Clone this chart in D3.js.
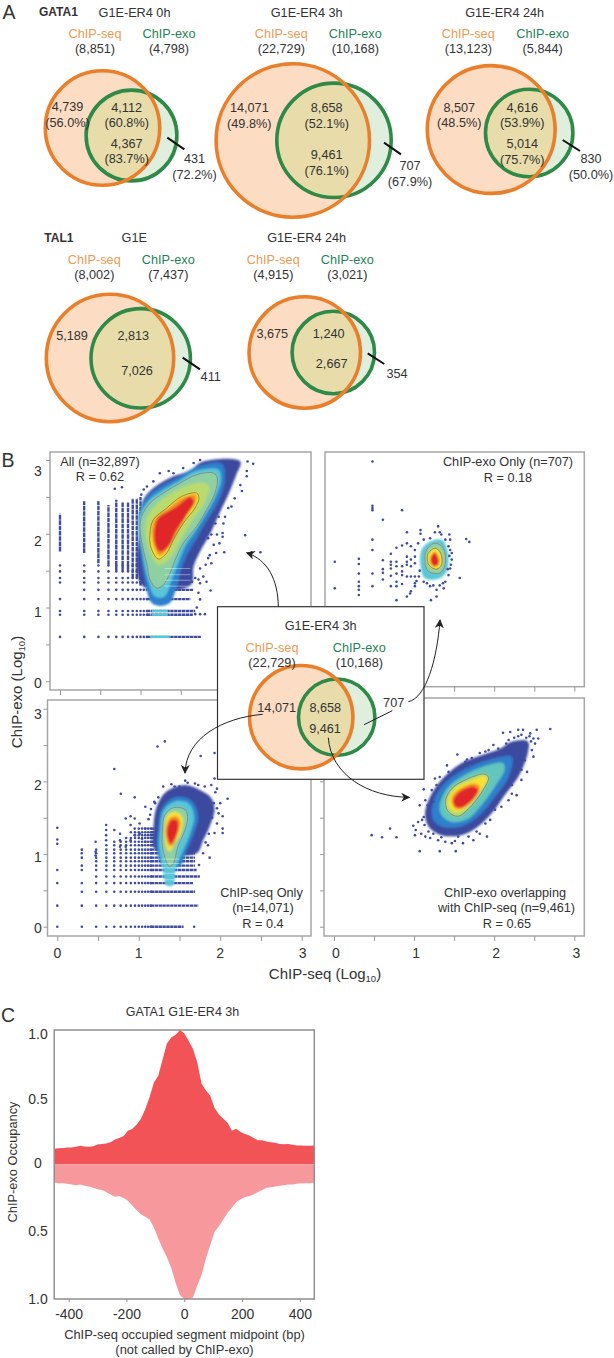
<!DOCTYPE html>
<html>
<head>
<meta charset="utf-8">
<script src="https://cdn.jsdelivr.net/npm/d3@7"></script>
<style>
  html, body { margin: 0; padding: 0; background: #fff; }
  svg { display: block; }
  text { font-family: "Liberation Sans", Arial, sans-serif; fill: #333; }
</style>
</head>
<body>
<div id="chart"></div>
<script>
// ===================================================
// DATA - panel A / inset Venn numbers
// ===================================================
const vennTitles = ["G1E-ER4 0h", "G1E-ER4 3h", "G1E-ER4 24h", "G1E", "G1E-ER4 24h"];
const seqTotals = ["(8,851)", "(22,729)", "(13,123)", "(8,002)", "(4,915)"];
const exoTotals = ["(4,798)", "(10,168)", "(5,844)", "(7,437)", "(3,021)"];
const vennRegions = [
  [["4,739", "(56.0%)"], ["4,112", "(60.8%)"], ["4,367", "(83.7%)"], ["431", "(72.2%)"]],
  [["14,071", "(49.8%)"], ["8,658", "(52.1%)"], ["9,461", "(76.1%)"], ["707", "(67.9%)"]],
  [["8,507", "(48.5%)"], ["4,616", "(53.9%)"], ["5,014", "(75.7%)"], ["830", "(50.0%)"]],
  [["5,189"], ["2,813"], ["7,026"], ["411"]],
  [["3,675"], ["1,240"], ["2,667"], ["354"]]
];
const insetRegions = [["14,071"], ["8,658"], ["9,461"], ["707"]];

// ===================================================
// DATA - panel B, density outlines
// [ChIP-seq log10, ChIP-exo log10]
// ===================================================
const allNavy = [[1.02,1.30],[1.0,2.2],[1.03,2.45],[1.16,2.62],[1.37,2.76],[1.6,2.85],[1.78,2.98],[2.24,2.98],[2.19,2.80],[2.09,2.53],[1.99,2.30],[1.86,1.99],[1.74,1.76],[1.66,1.56],[1.62,1.3]];
const allBlue = [[.97,2.05],[.98,2.28],[1.08,2.50],[1.25,2.64],[1.47,2.77],[1.70,2.91],[2.01,2.95],[2.05,2.75],[1.97,2.44],[1.82,2.17],[1.70,1.94],[1.58,1.72],[1.50,1.50],[1.45,1.28],[1.35,1.05],[1.15,1.05],[1.05,1.40],[1.0,1.75]];
const allCyan = [[.98,2.05],[1.0,2.27],[1.10,2.45],[1.27,2.59],[1.48,2.72],[1.69,2.85],[1.97,2.87],[2.0,2.73],[1.905,2.44],[1.78,2.21],[1.66,2.0],[1.55,1.82],[1.47,1.60],[1.39,1.38],[1.30,1.15],[1.18,1.15],[1.09,1.38],[1.02,1.75]];
const allGreen = [[.994,2.054],[1.014,2.235],[1.118,2.416],[1.284,2.552],[1.491,2.688],[1.698,2.801],[1.905,2.824],[1.954,2.756],[1.925,2.552],[1.822,2.326],[1.698,2.100],[1.532,1.873],[1.449,1.692],[1.366,1.466],[1.284,1.308],[1.201,1.262],[1.118,1.376],[1.077,1.602],[1.035,1.783]];
const allLime = [[1.06,2.03],[1.09,2.24],[1.22,2.42],[1.47,2.60],[1.72,2.69],[1.85,2.65],[1.80,2.42],[1.64,2.17],[1.49,1.90],[1.40,1.72],[1.30,1.60],[1.22,1.58],[1.13,1.72]];
const allYellow = [[1.118,2.009],[1.159,2.190],[1.325,2.348],[1.511,2.507],[1.698,2.552],[1.727,2.484],[1.677,2.348],[1.532,2.145],[1.408,1.919],[1.325,1.738],[1.222,1.656],[1.159,1.738],[1.118,1.873]];
const allOrange = [[1.14,2.05],[1.19,2.22],[1.35,2.35],[1.52,2.49],[1.69,2.53],[1.68,2.42],[1.58,2.25],[1.46,2.02],[1.36,1.83],[1.24,1.70],[1.17,1.82]];
const allRed = [[1.18,2.10],[1.222,2.213],[1.449,2.371],[1.615,2.498],[1.665,2.439],[1.573,2.258],[1.449,2.054],[1.346,1.828],[1.242,1.76],[1.18,1.873]];

const exoCyan = [[1.094,1.783],[1.198,1.896],[1.344,1.919],[1.415,1.783],[1.415,1.511],[1.323,1.398],[1.136,1.398],[1.082,1.557]];
const exoGreen = [[1.157,1.783],[1.261,1.873],[1.365,1.805],[1.386,1.579],[1.323,1.466],[1.178,1.489],[1.136,1.624]];
const exoYellow = [[1.178,1.738],[1.261,1.805],[1.332,1.738],[1.344,1.579],[1.282,1.52],[1.199,1.557],[1.165,1.647]];
const exoRed = [[1.211,1.692],[1.261,1.751],[1.303,1.67],[1.311,1.602],[1.261,1.557],[1.211,1.602]];

const seqNavy = [[1.20,1.06],[1.18,1.33],[1.22,1.65],[1.34,1.86],[1.57,1.95],[1.75,1.88],[1.89,1.77],[1.93,1.61],[1.87,1.38],[1.79,1.19],[1.71,1.01]];
const seqBlue = [[1.24,1.33],[1.28,1.62],[1.44,1.78],[1.63,1.75],[1.73,1.53],[1.67,1.26],[1.58,1.03],[1.50,.83],[1.30,.83],[1.22,1.08]];
const seqCyan = [[1.26,1.33],[1.31,1.61],[1.46,1.73],[1.62,1.69],[1.68,1.51],[1.63,1.28],[1.55,1.06],[1.46,.83],[1.42,.57],[1.34,.57],[1.29,.83],[1.25,1.10]];
const seqGreen = [[1.29,1.33],[1.32,1.54],[1.43,1.64],[1.57,1.61],[1.60,1.48],[1.55,1.28],[1.48,1.10],[1.42,.86],[1.37,.83],[1.33,.92],[1.29,1.10]];
const seqYellow = [[1.32,1.38],[1.36,1.54],[1.46,1.58],[1.54,1.49],[1.51,1.28],[1.44,1.15],[1.38,1.03],[1.34,1.10],[1.32,1.24]];
const seqOrange = [[1.33,1.35],[1.38,1.49],[1.46,1.52],[1.51,1.44],[1.47,1.26],[1.42,1.12],[1.37,1.12],[1.34,1.22]];
const seqRed = [[1.35,1.35],[1.40,1.47],[1.47,1.46],[1.48,1.33],[1.43,1.19],[1.39,1.14],[1.35,1.24]];

const overlapNavy = [[1.136,1.56],[1.20,1.79],[1.34,2.02],[1.59,2.25],[1.84,2.36],[2.09,2.46],[2.20,2.54],[2.42,2.55],[2.42,2.39],[2.30,2.06],[2.13,1.81],[1.97,1.56],[1.80,1.38],[1.59,1.26],[1.34,1.26],[1.18,1.38]];
const overlapBlue = [[1.22,1.61],[1.30,1.86],[1.51,2.09],[1.80,2.25],[2.09,2.34],[2.22,2.34],[2.18,2.06],[2.01,1.79],[1.82,1.54],[1.59,1.38],[1.34,1.38],[1.24,1.47]];
const overlapCyan = [[1.32,1.67],[1.41,1.90],[1.59,2.06],[1.86,2.20],[2.11,2.25],[2.13,2.16],[2.01,1.93],[1.84,1.67],[1.68,1.49],[1.47,1.44],[1.34,1.54]];
const overlapGreen = [[1.39,1.72],[1.47,1.90],[1.68,2.04],[1.88,2.10],[1.93,2.05],[1.86,1.88],[1.72,1.67],[1.55,1.52],[1.43,1.58]];
const overlapYellow = [[1.43,1.74],[1.51,1.90],[1.70,2.00],[1.87,2.07],[1.91,2.03],[1.82,1.86],[1.68,1.67],[1.55,1.58],[1.45,1.63]];
const overlapOrange = [[1.47,1.77],[1.55,1.88],[1.74,1.97],[1.82,1.93],[1.76,1.77],[1.61,1.63],[1.51,1.63]];
const overlapRed = [[1.49,1.74],[1.57,1.86],[1.74,1.93],[1.80,1.88],[1.72,1.74],[1.59,1.64],[1.51,1.66]];

// ===================================================
// DATA - panel B, counted reads sit on log10(integer) lines
// ===================================================
const xLevels = [0,.301,.477,.602,.699,.778,.845,.903,.954,1,1.041,1.079,1.114,1.146];

// [y, first x, last x] - dots at low x, solid after that
const allRows = [[.602,0,1.75],[.903,0,1.65],[.954,0,1.68],[1.114,0,1.62],[1.24,.3,1.66],[1.34,0,1.6],[1.40,0,1.62],[1.49,0,1.62],[1.57,0,1.6]];
// [x, low y, high y]
const allColumns = [[0,1.76,2.27],[.30,1.74,2.44],[.477,1.60,2.44],[.602,1.58,2.39],[.699,1.5,2.46],[.778,1.5,2.43],[.845,1.5,2.43],[.903,1.4,2.48],[.954,1.4,2.48],[1,1.3,2.5]];
const allRowGlow = [[.602,1.12,1.36],[.903,1.14,1.34],[.954,1.14,1.34],[1.114,1.12,1.36],[1.24,1.08,1.4]];
const allRowGaps = [1.29,1.37,1.445,1.53];
const allPoints = [[.68,2.61],[.77,2.63],[1.24,2.82],[1.35,2.85],[1.04,2.60],[1.08,2.64],[1.01,2.53],[1.16,2.71],[1.41,2.82],[1.53,2.89],[1.66,2.96],[1.74,3.0],
  [2.33,2.98],[2.40,2.95],[2.32,2.85],[2.32,2.78],[2.24,2.66],[2.26,2.58],[2.17,2.48],[2.13,2.37],[2.09,2.35],[2.05,2.23],[1.97,2.23],[2.03,2.14],[1.93,2.14],[1.86,2.05],[1.88,1.99],[1.95,1.99],[2.02,2.01],[2.02,1.96],[1.84,1.94],[2.30,1.98],[1.98,1.87],[1.91,1.85],[1.86,1.71],[1.94,1.74],[2.04,1.75],[2.38,1.75],[2.49,1.75],[1.84,1.67],[1.88,1.60],[1.81,1.58],[1.74,1.53],[1.78,1.42],[1.72,1.38],[1.82,1.35],[1.74,1.33],[1.68,1.40],[1.64,1.35],
  [1.87,1.23],[1.74,1.11],[1.80,.91],[1.74,.91],[1.68,.91],[1.70,1.0],[1.72,1.2]];

const seqRows = [[0,0,1.55],[.29,0,1.73],[.48,.3,1.69],[.60,0,1.67],[.69,.477,1.75],[.78,0,1.71],[.84,.3,1.69],[.90,.477,1.69],[.95,.3,1.69],[1.01,.477,1.69],[1.06,.3,1.71],[1.12,.602,1.30],[1.17,.699,1.30],[1.22,.845,1.3],[1.26,.954,1.3],[1.30,.903,1.3],[1.35,1.0,1.3]];
const seqRowGaps = [.54,.645,.735,.81,.87,.93];
const seqPoints = [[0,1.36],[0,1.20],[0,1.14],[.30,1.01],[.47,1.17],[.47,1.03],[.47,.98],[.60,1.40],[.60,1.33],[.60,1.26],[.60,1.19],[.70,2.17],[.78,1.83],[.95,1.78],[1.23,2.48],[1.32,2.55],[1.76,2.35],[1.93,2.39],[1.93,2.04],[2.09,1.76],[2.03,1.52],[2.03,1.35],[2.03,1.29],[1.68,0],[1.20,1.70],[1.24,1.78],[1.30,1.93],[1.40,1.96],[1.44,1.93],[1.57,2.01],[1.69,1.97],[1.73,1.95],[1.81,1.93],[1.89,1.95],[1.96,1.90],[2.00,1.70],[1.98,1.56],[1.96,1.42],[1.93,1.29],[1.85,1.12],[1.87,.95],[1.79,1.01],[1.74,.85],[1.01,1.28],[1.08,1.35],[1.14,1.54],[1.08,1.65],[1.01,1.42],[.95,1.49],[.90,1.52],[.84,1.49],[.90,1.40],[.95,1.35],[.77,1.28],[.70,1.33],[.77,1.19],[.84,1.10],[.90,1.19],[.95,1.26],[.77,1.10],[1.04,1.21],[1.08,1.17],[1.04,1.12],[1.92,1.70],[1.96,1.63],[1.90,1.50],[1.86,1.28],[1.82,1.16],[1.94,1.85],[1.60,1.98],[1.50,1.93],[1.12,1.48],[1.15,1.62],[1.19,1.72]];

const exoPoints = [[.48,2.98],[.48,2.38],[.48,2.35],[.48,2.32],[.85,2.32],[.61,2.19],[.91,2.02],[.48,1.92],[1.08,2.05],[1.08,2.00],[1.30,2.10],[1.26,2.02],[1.34,1.99],[1.44,1.99],[1.65,1.93],[1.69,1.89],[.48,1.78],[.01,1.62],[.01,1.26],[.31,1.66],[.31,1.59],[.31,1.46],[.31,1.35],[.31,1.29],[.31,1.24],[.31,1.17],[.48,1.46],[.48,1.29],[.61,1.64],[.61,1.52],[.61,1.47],[.61,1.38],[.71,1.73],[.71,1.62],[.71,1.58],[.71,1.53],[.71,1.43],[.71,1.29],[.78,1.81],[.78,1.62],[.78,1.56],[.78,1.46],[.78,1.35],[.78,1.29],[.85,1.84],[.85,1.56],[.85,1.49],[.85,1.44],[.85,1.32],[.91,1.87],[.91,1.69],[.91,1.62],[.91,1.58],[.91,1.42],[.96,1.83],[.96,1.65],[.96,1.56],[.96,1.42],[.96,1.22],[1.01,1.78],[1.01,1.69],[1.01,1.60],[1.01,1.42],[1.01,1.33],[1.01,1.29],[.78,1.10],[.91,1.15],[.95,1.19],[1.21,1.10],[1.28,1.15],[1.45,1.78],[1.47,1.65],[1.45,1.53],[1.43,1.44],[1.57,1.40],[1.39,1.35],[1.37,1.26],[1.28,1.24],[1.20,1.29],[1.12,1.35],[1.05,1.87],[1.12,1.92],[1.20,1.94],[1.32,2.02],[1.39,1.92],[1.45,1.92],[1.47,1.74],[1.46,1.58],[1.43,1.83],[1.06,1.42],[1.07,1.50],[1.03,1.36],[1.16,1.33],[1.24,1.30],[1.32,1.30],[1.36,1.33],[1.42,1.52],[1.44,1.70]];

const overlapPoints = [[.47,1.26],[.60,1.23],[.70,1.35],[.78,1.23],[1.07,1.04],[1.32,1.04],[1.52,1.04],[2.70,2.72],[.99,1.39],[1.02,1.33],[1.09,1.28],[1.14,1.24],[1.12,1.51],[1.17,1.67],[1.07,1.67],[1.14,1.74],[1.12,1.89],[1.22,1.88],[1.28,1.95],[1.32,2.06],[1.41,2.22],[1.54,2.37],[1.64,2.27],[1.72,2.32],[1.82,2.39],[1.93,2.43],[1.99,2.50],[2.11,2.67],[2.20,2.68],[2.30,2.71],[2.36,2.71],[2.45,2.66],[2.53,2.71],[2.55,2.59],[2.51,2.52],[2.47,2.43],[2.41,2.13],[2.28,1.81],[2.18,1.74],[2.01,1.61],[1.91,1.24],[1.74,1.19],[1.61,1.15],[1.47,1.15],[1.30,1.19],[1.20,1.22],[1.05,1.44],[1.01,1.26],[1.24,1.28],[1.39,1.17],[1.55,1.24],[1.78,1.31],[1.89,1.42],[2.03,1.70],[2.22,1.95],[2.34,2.16],[2.38,2.29],[2.26,2.48],[1.24,1.72],[1.19,1.56],[1.10,1.47],[1.26,2.04],[1.43,2.13],[1.66,2.30],[1.89,2.41],[2.05,2.45],[2.18,2.57],[2.34,2.64],[2.49,2.59],[2.49,2.34],[2.34,2.02],[2.22,1.83],[2.09,1.65],[1.95,1.47],[1.82,1.28],[1.68,1.24],[1.51,1.18],[1.34,1.23],[1.18,1.31],[1.13,1.40],[2.25,2.60],[2.30,2.62],[2.40,2.60],[2.46,2.55],[2.44,2.62],[2.15,2.52]];

const scatterTicks = [0,.5,1,1.5,2,2.5,3];
const scatterTickLabels = [0,1,2,3];

// ===================================================
// DATA - panel C, occupancy profile
// ===================================================
const profileBp = [-450,-435,-420,-405,-390,-375,-360,-345,-330,-315,-300,-285,-270,-255,-240,-225,-210,-195,-180,-165,-150,-135,-120,-105,-90,-75,-60,-45,-30,-15,0,15,30,45,60,75,90,105,120,135,150,165,180,195,210,225,240,255,270,285,300,315,330,345,360,375,390,405,420,435,450];
const calledOccupancy = [.115,.12,.122,.125,.125,.13,.138,.132,.13,.135,.148,.152,.155,.165,.185,.195,.21,.25,.262,.295,.34,.41,.5,.61,.66,.78,.9,.945,.965,1,.975,.92,.86,.76,.6,.55,.51,.42,.37,.34,.31,.25,.265,.24,.225,.215,.195,.18,.18,.17,.165,.16,.152,.15,.152,.145,.14,.14,.138,.138,.14];
const notCalledOccupancy = [.135,.14,.14,.145,.15,.155,.15,.16,.165,.175,.185,.19,.205,.225,.24,.235,.25,.27,.305,.34,.37,.39,.41,.47,.55,.625,.69,.77,.88,.97,1,1,.99,.9,.82,.7,.6,.5,.46,.41,.36,.32,.28,.26,.245,.235,.225,.205,.19,.175,.17,.165,.16,.155,.15,.15,.145,.14,.14,.14,.135];
const profileXTicks = [-400,-200,0,200,400];
const profileYTicks = [1,.5,0,-.5,-1];

// ===================================================
// LAYOUT / STYLE
// ===================================================
const width = 614, height = 1358;
const seqColor = "#e97f2b", exoColor = "#2f8a48";
const seqLabelColor = "#ef9a52", exoLabelColor = "#1f8358";
const bandColors = { navy: "#3b4a9e", blue: "#2f7fcc", cyan: "#58c6d8", teal: "#62c6bd", green: "#8fd0a2", lime: "#b9da6e", yellow: "#f7e233", orange: "#f59323", red: "#e1272b" };

const vennLayouts = [
  { seq: [102.5,128,57.2], exo: [131.5,135.5,45.4], titleX: 134.5, titleY: 12, seqX: 95, exoX: 169, labelY: 33, countY: 48.7,
    regionAt: [[67.5,106.7],[126.7,107],[126.7,143],[194.5,158.7]], leader: [167.3,137.7,184.3,149.3], lineGap: 15.7 },
  { seq: [292.8,140.5,76.7], exo: [334,140.3,57.2], titleX: 306.7, titleY: 12, seqX: 281.3, exoX: 355.3, labelY: 33, countY: 48.7,
    regionAt: [[249.3,107],[326.7,107],[326.7,154],[410,165.7]], leader: [384,142.7,401,154.3], lineGap: 16 },
  { seq: [491.2,129.5,63.9], exo: [529.2,133,43.7], titleX: 504.7, titleY: 12, seqX: 468.3, exoX: 542.7, labelY: 33, countY: 48.7,
    regionAt: [[459.3,107],[522.3,107],[522.3,143.3],[591,158.7]], leader: [562.7,140,580,151], lineGap: 15.7 },
  { seq: [110,358,63.7], exo: [140.7,358.3,49.7], titleX: 134.3, titleY: 237.3, seqX: 94.3, exoX: 168.3, labelY: 259, countY: 274.7,
    regionAt: [[72,335.7],[133.3,335.7],[137,370.7],[210.7,376]], leader: [182.7,357.7,200,369.3], lineGap: 15.7 },
  { seq: [304.7,352.5,55.7], exo: [333.3,352.5,41.2], titleX: 306.7, titleY: 237.3, seqX: 273.3, exoX: 347.3, labelY: 259, countY: 274.7,
    regionAt: [[272.3,333.3],[328.7,333.3],[331.7,363.3],[397,373.3]], leader: [367.7,353.3,384.3,364], lineGap: 15.7 }
];
const insetLayout = { seq: [301.2,717.2,51.7], exo: [336.7,717.2,38.2], titleX: 320.7, titleY: 625.7, seqX: 272, exoX: 359.3, labelY: 647.3, countY: 662.7,
  regionAt: [[276.7,707.3],[325.3,707.3],[325,728.3],[393.7,702.7]], lineGap: 15.7 };

const svg = d3.select("#chart").append("svg")
    .attr("width", width)
    .attr("height", height)
    .attr("viewBox", [0, 0, width, height]);

const defs = svg.append("defs");

// Soft edge so the nested outlines read as a density map
defs.append("filter").attr("id", "soft")
    .attr("x", "-20%").attr("y", "-20%").attr("width", "140%").attr("height", "140%")
    .append("feGaussianBlur").attr("stdDeviation", 1.2);

defs.append("marker").attr("id", "arrow")
    .attr("viewBox", "0 0 10 10").attr("refX", 9).attr("refY", 5)
    .attr("markerWidth", 9).attr("markerHeight", 9).attr("markerUnits", "userSpaceOnUse")
    .attr("orient", "auto")
    .append("path").attr("d", "M0,0 L10,5 L0,10 L3,5 Z").attr("fill", "#222");

// Small text helper, y is the vertical middle of the text
function addText(parent, str, x, y, opts = {}) {
    return parent.append("text")
        .attr("x", x).attr("y", y).attr("dy", "0.36em")
        .attr("text-anchor", opts.anchor || "middle")
        .attr("font-size", opts.size || 12.7)
        .attr("font-weight", opts.weight || null)
        .style("fill", opts.color || null)
        .text(str);
}

// ===================================================
// VENN DIAGRAMS
// ===================================================
function drawVenn(parent, layout, id, title, seqTotal, exoTotal, regions) {
    const g = parent.append("g");
    const [sx, sy, sr] = layout.seq;
    const [ex, ey, er] = layout.exo;

    defs.append("clipPath").attr("id", "seq-clip-" + id)
        .append("circle").attr("cx", sx).attr("cy", sy).attr("r", sr);

    g.append("circle").attr("cx", ex).attr("cy", ey).attr("r", er).attr("fill", "#dfeedd");
    g.append("circle").attr("cx", sx).attr("cy", sy).attr("r", sr).attr("fill", "#fcdcc3");
    g.append("circle").attr("cx", ex).attr("cy", ey).attr("r", er).attr("fill", "#e7dcaa")
        .attr("clip-path", `url(#seq-clip-${id})`);
    g.append("circle").attr("cx", ex).attr("cy", ey).attr("r", er)
        .attr("fill", "none").attr("stroke", exoColor).attr("stroke-width", 3.6);
    g.append("circle").attr("cx", sx).attr("cy", sy).attr("r", sr)
        .attr("fill", "none").attr("stroke", seqColor).attr("stroke-width", 3.6);

    addText(g, title, layout.titleX, layout.titleY);
    addText(g, "ChIP-seq", layout.seqX, layout.labelY, { color: seqLabelColor });
    addText(g, "ChIP-exo", layout.exoX, layout.labelY, { color: exoLabelColor });
    addText(g, seqTotal, layout.seqX, layout.countY);
    addText(g, exoTotal, layout.exoX, layout.countY);

    regions.forEach((lines, i) => {
        lines.forEach((line, j) => {
            addText(g, line, layout.regionAt[i][0], layout.regionAt[i][1] + j * layout.lineGap);
        });
    });

    if (layout.leader) {
        const [x1, y1, x2, y2] = layout.leader;
        g.append("line").attr("x1", x1).attr("y1", y1).attr("x2", x2).attr("y2", y2)
            .attr("stroke", "#111").attr("stroke-width", 2);
    }
}

const panelA = svg.append("g").attr("class", "panel-a");
addText(panelA, "A", 9, 12, { size: 19.5 });
addText(panelA, "GATA1", 39, 11.7, { anchor: "start", weight: "bold", size: 12 });
addText(panelA, "TAL1", 44.3, 237.3, { anchor: "start", weight: "bold", size: 12 });
vennLayouts.forEach((layout, i) => {
    drawVenn(panelA, layout, i, vennTitles[i], seqTotals[i], exoTotals[i], vennRegions[i]);
});

// ===================================================
// DENSITY SCATTER PANELS
// ===================================================
const xTopLeft = d3.scaleLinear().domain([0, 3]).range([60, 301.5]);
const xBottomLeft = d3.scaleLinear().domain([0, 3]).range([57.3, 301.7]);
const xRight = d3.scaleLinear().domain([0, 3]).range([334, 574.3]);
const yTop = d3.scaleLinear().domain([0, 3]).range([681.3, 460]);
const yBottom = d3.scaleLinear().domain([0, 3]).range([926.7, 708.7]);
// The printed digits sit a little off their ticks
const yTopLabels = d3.scaleLinear().domain([0, 3]).range([682.7, 470.7]);
const yBottomLabels = d3.scaleLinear().domain([0, 3]).range([928, 714]);

const dotColor = "#3f4ca0";

function drawPanel(cfg) {
    const { x, y, frame } = cfg;
    const g = svg.append("g");
    const outline = d3.line().x(d => x(d[0])).y(d => y(d[1])).curve(d3.curveCatmullRomClosed);

    // Lattice rows, dotted at low counts and solid after that
    (cfg.rows || []).forEach(([ry, x0, x1]) => {
        g.append("g").selectAll("circle")
            .data(xLevels.filter(v => v >= x0 && v <= Math.min(x1, cfg.dotsUpTo)))
            .join("circle")
            .attr("cx", d => x(d)).attr("cy", y(ry)).attr("r", 1.3).attr("fill", dotColor);
        if (x1 > cfg.dotsUpTo) {
            g.append("line").attr("x1", x(cfg.dotsUpTo)).attr("x2", x(x1))
                .attr("y1", y(ry)).attr("y2", y(ry))
                .attr("stroke", dotColor).attr("stroke-width", 2.4).attr("stroke-dasharray", "3.4 .5");
        }
    });

    (cfg.columns || []).forEach(([cx, y0, y1]) => {
        g.append("line").attr("x1", x(cx)).attr("x2", x(cx))
            .attr("y1", y(y0)).attr("y2", y(y1))
            .attr("stroke", dotColor).attr("stroke-width", 2.4).attr("stroke-dasharray", "4.6 .7");
    });

    (cfg.glow || []).forEach(([ry, x0, x1]) => {
        g.append("line").attr("x1", x(x0)).attr("x2", x(x1))
            .attr("y1", y(ry)).attr("y2", y(ry))
            .attr("stroke", bandColors.cyan).attr("stroke-width", 2.4);
    });

    g.append("g").attr("filter", "url(#soft)").selectAll("path").data(cfg.bands).join("path")
        .attr("d", d => outline(d[0]))
        .attr("fill", d => bandColors[d[1]]);

    g.append("g").selectAll("circle").data(cfg.points).join("circle")
        .attr("cx", d => x(d[0])).attr("cy", d => y(d[1])).attr("r", 1.3).attr("fill", dotColor);

    g.append("g").selectAll("path").data(cfg.contours).join("path")
        .attr("d", d => outline(d[0]))
        .attr("fill", "none").attr("stroke", d => d[1]).attr("stroke-width", 1);

    // White streaks where the counts leave gaps in the tail
    (cfg.gaps || []).forEach(ry => {
        g.append("line").attr("x1", x(cfg.gapRange[0])).attr("x2", x(cfg.gapRange[1]))
            .attr("y1", y(ry)).attr("y2", y(ry))
            .attr("stroke", "#fff").attr("stroke-width", .7).attr("opacity", .6);
    });

    // Frame and ticks
    g.append("rect").attr("x", frame[0]).attr("y", frame[1])
        .attr("width", frame[2] - frame[0]).attr("height", frame[3] - frame[1])
        .attr("fill", "none").attr("stroke", "#a6a6a6").attr("stroke-width", 1.5);

    const bottomAxis = d3.axisBottom(x).tickValues(scatterTicks).tickSize(5).tickFormat("");
    const xAxisG = g.append("g").attr("transform", `translate(0,${frame[3]})`).call(bottomAxis);
    xAxisG.select(".domain").remove();
    xAxisG.selectAll("line").attr("stroke", "#999");

    const yAxisG = g.append("g").attr("transform", `translate(${frame[0]},0)`)
        .call(d3.axisLeft(y).tickValues(scatterTicks).tickSize(cfg.leftTick).tickFormat(""));
    yAxisG.select(".domain").remove();
    yAxisG.selectAll("line").attr("stroke", "#999");

    (cfg.notes || []).forEach(([str, tx, ty]) => addText(g, str, tx, ty));
}

const panelFrames = {
    all: [50, 452, 311, 690],
    exo: [325, 452, 584.3, 686.7],
    seq: [47.5, 700, 311, 936],
    overlap: [324, 698, 584.3, 936]
};

drawPanel({
    x: xTopLeft, y: yTop, frame: panelFrames.all, leftTick: 4, dotsUpTo: 1.079,
    rows: allRows, columns: allColumns, glow: allRowGlow, gaps: allRowGaps, gapRange: [1.3, 1.62], points: allPoints,
    bands: [[allNavy,"navy"],[allBlue,"blue"],[allCyan,"cyan"],[allGreen,"green"],[allLime,"lime"],[allYellow,"yellow"],[allOrange,"orange"],[allRed,"red"]],
    contours: [[allGreen,"#8c8f80"],[allYellow,"#9a8a2e"]],
    notes: [["All (n=32,897)", 100, 461], ["R = 0.62", 100, 476]]
});
drawPanel({
    x: xRight, y: yTop, frame: panelFrames.exo, leftTick: 0, dotsUpTo: 0,
    points: exoPoints,
    bands: [[exoCyan,"cyan"],[exoGreen,"green"],[exoYellow,"yellow"],[exoRed,"red"]],
    contours: [[exoGreen,"#8c8f80"],[exoYellow,"#9a8a2e"]],
    notes: [["ChIP-exo Only (n=707)", 508, 461.5], ["R = 0.18", 508, 477]]
});
drawPanel({
    x: xBottomLeft, y: yBottom, frame: panelFrames.seq, leftTick: 4, dotsUpTo: 1.146,
    rows: seqRows, gaps: seqRowGaps, gapRange: [1.28, 1.5], points: seqPoints,
    bands: [[seqNavy,"navy"],[seqBlue,"blue"],[seqCyan,"cyan"],[seqGreen,"green"],[seqYellow,"yellow"],[seqOrange,"orange"],[seqRed,"red"]],
    contours: [[seqGreen,"#8c8f80"]],
    notes: [["ChIP-seq Only", 261.5, 892], ["(n=14,071)", 263, 907.5], ["R = 0.4", 263, 923]]
});
drawPanel({
    x: xRight, y: yBottom, frame: panelFrames.overlap, leftTick: 4, dotsUpTo: 0,
    points: overlapPoints,
    bands: [[overlapNavy,"navy"],[overlapBlue,"blue"],[overlapCyan,"teal"],[overlapGreen,"lime"],[overlapYellow,"yellow"],[overlapOrange,"orange"],[overlapRed,"red"]],
    contours: [[overlapGreen,"#8c8f60"]],
    notes: [["ChIP-exo overlapping", 505, 892], ["with ChIP-seq (n=9,461)", 506.5, 907.5], ["R = 0.65", 507, 923]]
});

// Axis digits and titles
const tickFont = { size: 14 };
scatterTickLabels.forEach(v => {
    addText(svg, v, 38, yTopLabels(v), tickFont);
    addText(svg, v, 38, yBottomLabels(v), tickFont);
    addText(svg, v, xBottomLeft(v) + (v === 3 ? 1 : 0), 953, tickFont);
    addText(svg, v, xRight(v) + 2, 953, tickFont);
});

function logAxisTitle(parent, name, x, y, rotate) {
    const t = parent.append("text")
        .attr("text-anchor", "middle").attr("font-size", 15)
        .attr("transform", `translate(${x},${y})` + (rotate ? " rotate(-90)" : ""));
    t.append("tspan").text(name + " (Log");
    t.append("tspan").attr("font-size", 9.5).attr("dy", 3).text("10");
    t.append("tspan").attr("dy", -3).text(")");
}
logAxisTitle(svg, "ChIP-exo", 22, 692, true);
logAxisTitle(svg, "ChIP-seq", 325, 979, false);
addText(svg, "B", 8, 460, { size: 19.5 });

// ===================================================
// CENTRE INSET AND ARROWS
// ===================================================
const inset = svg.append("g");
inset.append("rect").attr("x", 217.5).attr("y", 606.7).attr("width", 206.5).attr("height", 172.6)
    .attr("fill", "#fff").attr("stroke", "#333").attr("stroke-width", 1.2);
drawVenn(inset, insetLayout, "inset", "G1E-ER4 3h", seqTotals[1], exoTotals[1], insetRegions);

const arrows = [
    { d: "M278.3,606.7 C278,580 268,560 246.7,552.7", head: true },
    { d: "M408.3,701.7 C426,698 437,660 440,620", head: true },
    { d: "M262.7,714.3 C222,718 186,738 185,773", head: true },
    { d: "M328.3,737.7 C331,775 368,797 409.3,797.3", head: true },
    { d: "M392.3,710.7 L364,724.7", head: false }
];
svg.append("g").selectAll("path").data(arrows).join("path")
    .attr("d", d => d.d)
    .attr("fill", "none").attr("stroke", "#222").attr("stroke-width", 1)
    .attr("marker-end", d => d.head ? "url(#arrow)" : null);

// ===================================================
// PANEL C - OCCUPANCY PROFILE
// ===================================================
const xProfile = d3.scaleLinear().domain([-450, 450]).range([54.2, 314.3]);
const yUp = d3.scaleLinear().domain([0, 1]).range([1164.3, 1030]);
const yDown = d3.scaleLinear().domain([0, 1]).range([1164.3, 1299]);
const yProfileLabels = d3.scaleLinear().domain([-1, 0, 1]).range([1299, 1163, 1034]);

const panelC = svg.append("g").attr("class", "panel-c");

panelC.append("path")
    .attr("fill", "#f15356")
    .attr("d", d3.area()
        .x((d, i) => xProfile(profileBp[i])).y0(yUp(0)).y1(d => yUp(d))(calledOccupancy));
panelC.append("path")
    .attr("fill", "#f6989c")
    .attr("d", d3.area()
        .x((d, i) => xProfile(profileBp[i])).y0(yDown(0)).y1(d => yDown(d))(notCalledOccupancy));

panelC.append("rect").attr("x", 54.2).attr("y", 1030).attr("width", 260.1).attr("height", 269)
    .attr("fill", "none").attr("stroke", "#8f8f8f").attr("stroke-width", 1.5);

const profileAxis = panelC.append("g").attr("transform", "translate(0,1299)")
    .call(d3.axisBottom(xProfile).tickValues(profileXTicks).tickSize(3).tickPadding(7).tickFormat(d => String(d)));
profileAxis.select(".domain").remove();
profileAxis.selectAll("line").attr("stroke", "#8f8f8f");
profileAxis.selectAll("text").attr("font-size", 14).attr("font-family", null);

profileYTicks.forEach(v => {
    addText(panelC, v === 0 ? "0" : d3.format(".1f")(Math.abs(v)), 38, yProfileLabels(v), { size: 14 });
});

addText(panelC, "C", 8, 1015, { size: 19.5 });
addText(panelC, "GATA1 G1E-ER4 3h", 182.5, 1011, { size: 12.5 });
addText(panelC, "ChIP-seq occupied segment midpoint (bp)", 184.5, 1334, { size: 12.9 });
addText(panelC, "(not called by ChIP-exo)", 184.5, 1349.5, { size: 12.9 });
panelC.append("text")
    .attr("transform", "translate(12,1162) rotate(-90)")
    .attr("dy", "0.36em").attr("text-anchor", "middle").attr("font-size", 12.8)
    .text("ChIP-exo Occupancy");
</script>
</body>
</html>
